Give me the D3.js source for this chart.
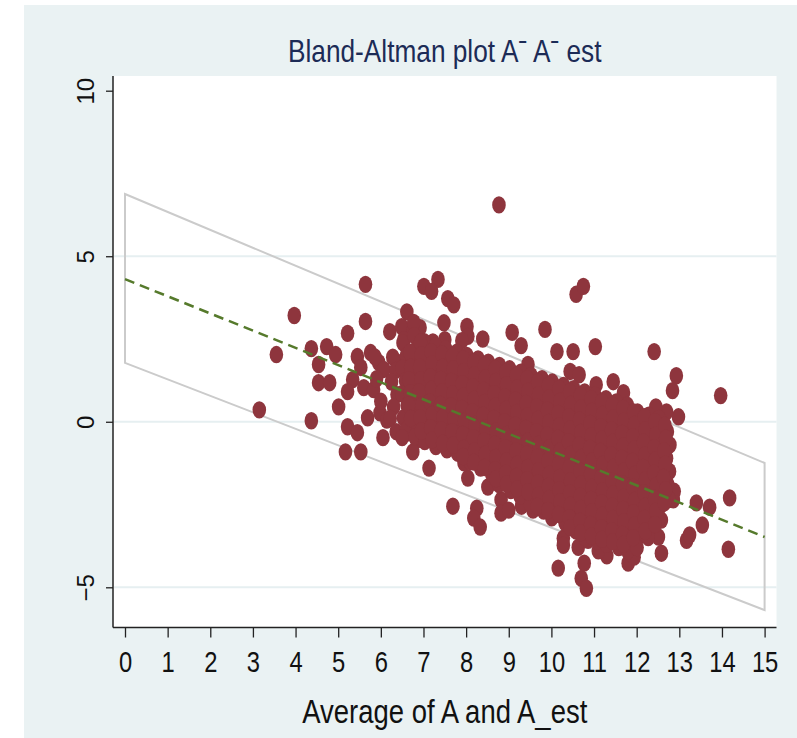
<!DOCTYPE html>
<html>
<head>
<meta charset="utf-8">
<script src="https://cdn.jsdelivr.net/npm/d3@7"></script>
<style>
body { margin: 0; background: #fff; }
</style>
</head>
<body>
<div id="graphique"></div>
<script>
// valeurs
const xTicks = [0, 1, 2, 3, 4, 5, 6, 7, 8, 9, 10, 11, 12, 13, 14, 15];
const yTicks = [-5, 0, 5, 10];
const gridVals = [-5, 0, 5];

// limites d'agrement (haut / bas) et droite de regression
const upperLimit = [[0, 6.88], [15, -1.245]];
const lowerLimit = [[0, 1.78], [15, -5.69]];
const meanLine = [[0, 4.31], [15, -3.48]];

// points isoles (moyenne, difference)
const sparsePts = [
    [3.15,0.36],[3.55,2.03],[3.97,3.21],[4.37,0.03],[4.37,2.21],[4.73,2.27],[4.94,2.03],[4.54,1.73],[4.54,1.18],[4.8,1.18],
    [5.22,2.67],[5.64,4.15],[5.64,3.03],[5.45,1.97],[5.76,2.09],[5.53,1.64],[5.95,1.79],[6.07,1.58],[5.34,1.27],[5.22,0.91],
    [5.6,1.03],[5.83,0.97],[5.01,0.45],[5.86,1.96],[5.98,0.27],[6.14,0.05],[5.9,1.3],[6.0,0.62],
    [5.22,-0.15],[5.45,-0.33],[5.69,0.12],[5.17,-0.91],[5.53,-0.91],[6.05,-0.48],[6.61,-0.34],[6.84,-0.55],[6.75,-0.91],
    [7.13,-1.4],[7.69,-2.55],[8.25,-2.61],[8.18,-2.91],[8.33,-3.18],[8.04,-1.7],[7.95,-1.24],[8.51,-1.97],
    [6.21,2.72],[6.61,3.32],[6.49,2.87],[6.75,2.72],[6.92,2.84],[6.77,3.0],[6.54,2.48],[6.87,2.27],[6.7,2.09],[6.4,1.79],
    [6.58,1.67],[6.77,1.52],[7.01,4.09],[7.34,4.3],[7.19,3.94],[7.57,3.72],[7.71,3.53],[7.48,2.99],[8.02,2.88],[8.04,2.58],
    [8.39,2.5],[7.22,2.41],[7.5,2.48],[7.9,2.45],
    [8.77,6.55],[10.58,3.85],[10.75,4.09],[9.08,2.7],[9.29,2.3],[9.85,2.79],[10.13,2.12],[10.51,2.12],[11.03,2.27],[12.41,2.12],
    [12.93,1.39],[12.84,0.94],[13.97,0.79],[11.45,1.21],[11.69,0.88],[10.44,1.52],[10.65,1.42],[11.05,1.12],[9.76,1.27],[9.92,0.97],
    [9.45,1.73],[12.98,0.15],[12.7,0.3],[12.45,0.45],
    [14.18,-2.3],[14.15,-3.85],[13.4,-2.45],[13.71,-2.58],[13.54,-3.12],[13.17,-3.58],[13.24,-3.42],[12.58,-3.97],[12.86,-2.36],
    [12.88,-2.1],[12.58,-2.97],[12.34,-3.36],[12.51,-3.48],[11.8,-4.27],[11.94,-4.09],[11.3,-4.05],[11.1,-3.9],
    [10.16,-4.42],[10.77,-4.27],[10.7,-4.73],[10.82,-5.03],[10.28,-3.52],[10.28,-3.73],[10.63,-3.79],[10.86,-3.58],
    [8.82,-2.36],[8.82,-2.76],[9.0,-2.67],[9.57,-2.67],[9.3,-2.55]
];

// nuage dense, colonne par colonne
const densePts = [
    [6.28,1.95],[6.35,1.55],[6.25,1.2],[6.38,0.82],[6.3,0.45],[6.22,0.1],[6.36,-0.3],
    [6.52,2.38],[6.6,2.0],[6.5,1.62],[6.58,1.25],[6.49,0.85],[6.62,0.5],[6.53,0.12],[6.6,-0.25],[6.5,-0.48],
    [6.78,2.6],[6.85,2.2],[6.76,1.85],[6.83,1.45],[6.79,1.05],[6.86,0.7],[6.75,0.3],[6.84,-0.05],[6.8,-0.45],
    [7.02,2.42],[7.1,2.05],[7.0,1.7],[7.08,1.3],[7.04,0.92],[7.11,0.55],[7.0,0.18],[7.07,-0.2],[7.03,-0.6],
    [7.28,2.3],[7.35,1.92],[7.26,1.55],[7.33,1.15],[7.3,0.78],[7.36,0.4],[7.25,0.02],[7.32,-0.38],[7.29,-0.75],
    [7.52,2.2],[7.6,1.82],[7.5,1.45],[7.58,1.08],[7.54,0.7],[7.61,0.32],[7.5,-0.05],[7.57,-0.45],[7.55,-0.85],
    [7.78,2.1],[7.85,1.72],[7.76,1.35],[7.83,0.98],[7.79,0.6],[7.86,0.22],[7.75,-0.15],[7.82,-0.55],[7.8,-0.95],
    [8.02,2.0],[8.1,1.62],[8.0,1.25],[8.08,0.88],[8.04,0.5],[8.11,0.12],[8.0,-0.25],[8.07,-0.65],[8.03,-1.02],[8.09,-1.2],
    [8.28,1.9],[8.35,1.52],[8.26,1.15],[8.33,0.78],[8.29,0.4],[8.36,0.02],[8.25,-0.35],[8.32,-0.72],[8.3,-1.1],[8.34,-1.4],
    [8.52,1.8],[8.6,1.42],[8.5,1.05],[8.58,0.68],[8.54,0.3],[8.61,-0.08],[8.5,-0.45],[8.57,-0.82],[8.53,-1.2],[8.6,-1.58],
    [8.78,1.7],[8.85,1.32],[8.76,0.95],[8.83,0.58],[8.79,0.2],[8.86,-0.18],[8.75,-0.55],[8.82,-0.92],[8.8,-1.3],[8.84,-1.65],[8.77,-1.9],
    [9.02,1.6],[9.1,1.22],[9.0,0.85],[9.08,0.48],[9.04,0.1],[9.11,-0.28],[9.0,-0.65],[9.07,-1.02],[9.03,-1.4],[9.09,-1.75],[9.05,-2.08],
    [9.28,1.5],[9.35,1.12],[9.26,0.75],[9.33,0.38],[9.29,0.0],[9.36,-0.38],[9.25,-0.75],[9.32,-1.12],[9.3,-1.5],[9.34,-1.88],[9.27,-2.25],
    [9.52,1.4],[9.6,1.02],[9.5,0.65],[9.58,0.28],[9.54,-0.1],[9.61,-0.48],[9.5,-0.85],[9.57,-1.22],[9.53,-1.6],[9.6,-1.98],[9.55,-2.35],[9.51,-2.5],
    [9.78,1.3],[9.85,0.92],[9.76,0.55],[9.83,0.18],[9.79,-0.2],[9.86,-0.58],[9.75,-0.95],[9.82,-1.32],[9.8,-1.7],[9.84,-2.08],[9.77,-2.45],[9.82,-2.7],
    [10.02,1.2],[10.1,0.82],[10.0,0.45],[10.08,0.08],[10.04,-0.3],[10.11,-0.68],[10.0,-1.05],[10.07,-1.42],[10.03,-1.8],[10.09,-2.18],[10.05,-2.55],[10.01,-2.9],
    [10.28,1.1],[10.35,0.72],[10.26,0.35],[10.33,-0.02],[10.29,-0.4],[10.36,-0.78],[10.25,-1.15],[10.32,-1.52],[10.3,-1.9],[10.34,-2.28],[10.27,-2.65],[10.32,-3.05],
    [10.52,1.0],[10.6,0.62],[10.5,0.25],[10.58,-0.12],[10.54,-0.5],[10.61,-0.88],[10.5,-1.25],[10.57,-1.62],[10.53,-2.0],[10.6,-2.38],[10.55,-2.75],[10.51,-3.1],[10.58,-3.3],
    [10.78,0.9],[10.85,0.52],[10.76,0.15],[10.83,-0.22],[10.79,-0.6],[10.86,-0.98],[10.75,-1.35],[10.82,-1.72],[10.8,-2.1],[10.84,-2.48],[10.77,-2.85],[10.82,-3.2],[10.79,-3.5],
    [11.02,0.8],[11.1,0.42],[11.0,0.05],[11.08,-0.32],[11.04,-0.7],[11.11,-1.08],[11.0,-1.45],[11.07,-1.82],[11.03,-2.2],[11.09,-2.58],[11.05,-2.95],[11.01,-3.3],[11.08,-3.6],
    [11.28,0.7],[11.35,0.32],[11.26,-0.05],[11.33,-0.42],[11.29,-0.8],[11.36,-1.18],[11.25,-1.55],[11.32,-1.92],[11.3,-2.3],[11.34,-2.68],[11.27,-3.05],[11.32,-3.4],[11.29,-3.7],
    [11.52,0.6],[11.6,0.22],[11.5,-0.15],[11.58,-0.52],[11.54,-0.9],[11.61,-1.28],[11.5,-1.65],[11.57,-2.02],[11.53,-2.4],[11.6,-2.78],[11.55,-3.15],[11.51,-3.5],[11.58,-3.8],
    [11.78,0.5],[11.85,0.12],[11.76,-0.25],[11.83,-0.62],[11.79,-1.0],[11.86,-1.38],[11.75,-1.75],[11.82,-2.12],[11.8,-2.5],[11.84,-2.88],[11.77,-3.25],[11.82,-3.6],[11.79,-3.9],
    [12.02,0.3],[12.1,-0.08],[12.0,-0.45],[12.08,-0.82],[12.04,-1.2],[12.11,-1.58],[12.0,-1.95],[12.07,-2.32],[12.03,-2.7],[12.09,-3.08],[12.05,-3.45],[12.01,-3.8],
    [12.28,0.2],[12.35,-0.18],[12.26,-0.55],[12.33,-0.92],[12.29,-1.3],[12.36,-1.68],[12.25,-2.05],[12.32,-2.42],[12.3,-2.8],[12.34,-3.15],[12.27,-3.5],
    [12.52,0.1],[12.6,-0.28],[12.5,-0.65],[12.58,-1.02],[12.54,-1.4],[12.61,-1.78],[12.5,-2.15],[12.57,-2.52],[12.53,-2.9],
    [12.72,-0.3],[12.78,-0.7],[12.7,-1.1],[12.77,-1.5],[12.73,-1.9],[12.76,-2.35]
];

// points intercales du coeur du nuage
const corePts = [
    [6.68,2.1],[6.7,1.65],[6.66,1.27],[6.69,0.88],[6.65,0.5],[6.7,0.1],
    [6.93,2.4],[6.95,2.02],[6.91,1.65],[6.94,1.27],[6.9,0.9],[6.96,0.5],[6.92,0.12],[6.95,-0.28],
    [7.18,2.12],[7.2,1.75],[7.16,1.35],[7.19,0.98],[7.15,0.6],[7.21,0.22],[7.17,-0.18],[7.2,-0.55],
    [7.43,2.05],[7.45,1.65],[7.41,1.28],[7.44,0.9],[7.4,0.52],[7.46,0.15],[7.42,-0.25],[7.45,-0.65],
    [7.68,1.98],[7.7,1.6],[7.66,1.22],[7.69,0.85],[7.65,0.48],[7.71,0.1],[7.67,-0.3],[7.7,-0.7],
    [7.93,1.9],[7.95,1.52],[7.91,1.15],[7.94,0.78],[7.9,0.4],[7.96,0.02],[7.92,-0.38],[7.95,-0.8],[7.93,-1.05],
    [8.18,1.8],[8.2,1.42],[8.16,1.05],[8.19,0.68],[8.15,0.3],[8.21,-0.08],[8.17,-0.48],[8.2,-0.88],[8.18,-1.22],
    [8.43,1.7],[8.45,1.32],[8.41,0.95],[8.44,0.58],[8.4,0.2],[8.46,-0.18],[8.42,-0.58],[8.45,-0.98],[8.43,-1.38],
    [8.68,1.6],[8.7,1.22],[8.66,0.85],[8.69,0.48],[8.65,0.1],[8.71,-0.28],[8.67,-0.68],[8.7,-1.08],[8.68,-1.45],[8.7,-1.72],
    [8.93,1.5],[8.95,1.12],[8.91,0.75],[8.94,0.38],[8.9,0.0],[8.96,-0.38],[8.92,-0.78],[8.95,-1.18],[8.93,-1.55],[8.95,-1.88],
    [9.18,1.4],[9.2,1.02],[9.16,0.65],[9.19,0.28],[9.15,-0.1],[9.21,-0.48],[9.17,-0.88],[9.2,-1.28],[9.18,-1.65],[9.2,-2.02],
    [9.43,1.3],[9.45,0.92],[9.41,0.55],[9.44,0.18],[9.4,-0.2],[9.46,-0.58],[9.42,-0.98],[9.45,-1.38],[9.43,-1.75],[9.45,-2.12],
    [9.68,1.2],[9.7,0.82],[9.66,0.45],[9.69,0.08],[9.65,-0.3],[9.71,-0.68],[9.67,-1.08],[9.7,-1.48],[9.68,-1.85],[9.7,-2.22],[9.67,-2.55],
    [9.93,1.1],[9.95,0.72],[9.91,0.35],[9.94,-0.02],[9.9,-0.4],[9.96,-0.78],[9.92,-1.18],[9.95,-1.58],[9.93,-1.95],[9.95,-2.32],[9.92,-2.68],
    [10.18,1.0],[10.2,0.62],[10.16,0.25],[10.19,-0.12],[10.15,-0.5],[10.21,-0.88],[10.17,-1.28],[10.2,-1.68],[10.18,-2.05],[10.2,-2.42],[10.17,-2.8],
    [10.43,0.9],[10.45,0.52],[10.41,0.15],[10.44,-0.22],[10.4,-0.6],[10.46,-0.98],[10.42,-1.38],[10.45,-1.78],[10.43,-2.15],[10.45,-2.52],[10.42,-2.9],[10.44,-3.2],
    [10.68,0.8],[10.7,0.42],[10.66,0.05],[10.69,-0.32],[10.65,-0.7],[10.71,-1.08],[10.67,-1.48],[10.7,-1.88],[10.68,-2.25],[10.7,-2.62],[10.67,-3.0],[10.69,-3.35],
    [10.93,0.7],[10.95,0.32],[10.91,-0.05],[10.94,-0.42],[10.9,-0.8],[10.96,-1.18],[10.92,-1.58],[10.95,-1.98],[10.93,-2.35],[10.95,-2.72],[10.92,-3.1],[10.94,-3.45],
    [11.18,0.6],[11.2,0.22],[11.16,-0.15],[11.19,-0.52],[11.15,-0.9],[11.21,-1.28],[11.17,-1.68],[11.2,-2.08],[11.18,-2.45],[11.2,-2.82],[11.17,-3.2],[11.19,-3.55],
    [11.43,0.5],[11.45,0.12],[11.41,-0.25],[11.44,-0.62],[11.4,-1.0],[11.46,-1.38],[11.42,-1.78],[11.45,-2.18],[11.43,-2.55],[11.45,-2.92],[11.42,-3.3],[11.44,-3.62],
    [11.68,0.4],[11.7,0.02],[11.66,-0.35],[11.69,-0.72],[11.65,-1.1],[11.71,-1.48],[11.67,-1.88],[11.7,-2.28],[11.68,-2.65],[11.7,-3.02],[11.67,-3.4],[11.69,-3.7],
    [11.93,0.3],[11.95,-0.08],[11.91,-0.45],[11.94,-0.82],[11.9,-1.2],[11.96,-1.58],[11.92,-1.98],[11.95,-2.38],[11.93,-2.75],[11.95,-3.12],[11.92,-3.5],
    [12.18,0.15],[12.2,-0.25],[12.16,-0.62],[12.19,-1.0],[12.15,-1.38],[12.21,-1.75],[12.17,-2.15],[12.2,-2.55],[12.18,-2.92],[12.2,-3.3],
    [12.43,0.0],[12.45,-0.4],[12.41,-0.78],[12.44,-1.15],[12.4,-1.55],[12.46,-1.92],[12.42,-2.32],[12.45,-2.7],[12.43,-3.1],
    [12.66,-0.1],[12.68,-0.5],[12.64,-0.88],[12.67,-1.28],[12.63,-1.68],[12.68,-2.05],[12.65,-2.45]
];

const width = 797, height = 738;
const plot = { left: 113, right: 776.5, top: 76, bottom: 627.5 };
const sans = "'Liberation Sans', Arial, sans-serif";
const narrowScale = "scale(0.82,1)";

const svg = d3.select("#graphique").append("svg")
    .attr("width", width)
    .attr("height", height)
    .style("display", "block");

// fond gris-bleu
svg.append("rect")
    .attr("x", 24).attr("y", 5)
    .attr("width", width - 24).attr("height", height - 5)
    .attr("fill", "#eaf2f3");

// zone du graphique
svg.append("rect")
    .attr("x", plot.left).attr("y", plot.top)
    .attr("width", plot.right - plot.left).attr("height", plot.bottom - plot.top)
    .attr("fill", "#fff");

const xScale = d3.scaleLinear().domain([0, 15]).range([125, 764.6]);
const yScale = d3.scaleLinear().domain([-5, 10]).range([587.3, 90.7]);

// lignes de grille
svg.selectAll(".grid")
    .data(gridVals)
    .enter()
    .append("line")
    .attr("class", "grid")
    .attr("x1", plot.left + 1)
    .attr("x2", plot.right)
    .attr("y1", d => yScale(d))
    .attr("y2", d => yScale(d))
    .style("stroke", "#e6eff1")
    .style("stroke-width", 2);

// limites d'agrement
const line = d3.line()
    .x(d => xScale(d[0]))
    .y(d => yScale(d[1]));

svg.append("path")
    .attr("d", line(upperLimit.concat(lowerLimit.slice().reverse())) + "Z")
    .style("fill", "none")
    .style("stroke", "#cbcbcb")
    .style("stroke-width", 2);

// points
svg.selectAll(".pt")
    .data(sparsePts.concat(densePts, corePts))
    .enter()
    .append("ellipse")
    .attr("class", "pt")
    .attr("cx", d => xScale(d[0]))
    .attr("cy", d => yScale(d[1]))
    .attr("rx", 6.8)
    .attr("ry", 8.7)
    .style("fill", "#8e353d");

// droite de regression en tirets
svg.append("path")
    .attr("d", line(meanLine))
    .style("fill", "none")
    .style("stroke", "#567a2c")
    .style("stroke-width", 2.5)
    .style("stroke-dasharray", "10,6");

// axe des abscisses
const xAxis = svg.append("g")
    .attr("transform", `translate(0,${plot.bottom})`)
    .call(d3.axisBottom(xScale).tickValues(xTicks).tickSize(10).tickPadding(14).tickFormat(d3.format("d")));
xAxis.select(".domain").remove();
xAxis.selectAll("line").style("stroke", "#222").style("stroke-width", 1.3);
xAxis.selectAll("text")
    .attr("transform", narrowScale)
    .style("font-family", sans)
    .style("font-size", "29px")
    .style("fill", "#111");

// axe des ordonnees
const yAxis = svg.append("g")
    .attr("transform", `translate(${plot.left},0)`)
    .call(d3.axisLeft(yScale).tickValues(yTicks).tickSize(7).tickFormat(d3.format("d")));
yAxis.select(".domain").remove();
yAxis.selectAll("line").style("stroke", "#222").style("stroke-width", 1.3);
yAxis.selectAll("text")
    .attr("transform", "rotate(-90)")
    .attr("x", 0)
    .attr("y", -19)
    .attr("dy", 0)
    .attr("text-anchor", "middle")
    .style("font-family", sans)
    .style("font-size", "24px")
    .style("fill", "#111");

// traits des axes
svg.append("line")
    .attr("x1", plot.left).attr("x2", plot.right)
    .attr("y1", plot.bottom).attr("y2", plot.bottom)
    .style("stroke", "#222").style("stroke-width", 1.5);
svg.append("line")
    .attr("x1", plot.left).attr("x2", plot.left)
    .attr("y1", plot.top).attr("y2", plot.bottom)
    .style("stroke", "#222").style("stroke-width", 1.5);

// titres
svg.append("text")
    .attr("transform", `translate(${(plot.left + plot.right) / 2},62) ${narrowScale}`)
    .attr("text-anchor", "middle")
    .style("font-family", sans)
    .style("font-size", "32px")
    .style("fill", "#1c2b56")
    .text("Bland-Altman plot A\u02C9 A\u02C9 est");

svg.append("text")
    .attr("transform", `translate(${(plot.left + plot.right) / 2},723) ${narrowScale}`)
    .attr("text-anchor", "middle")
    .style("font-family", sans)
    .style("font-size", "33.5px")
    .style("fill", "#111")
    .text("Average of A and A_est");
</script>
</body>
</html>
